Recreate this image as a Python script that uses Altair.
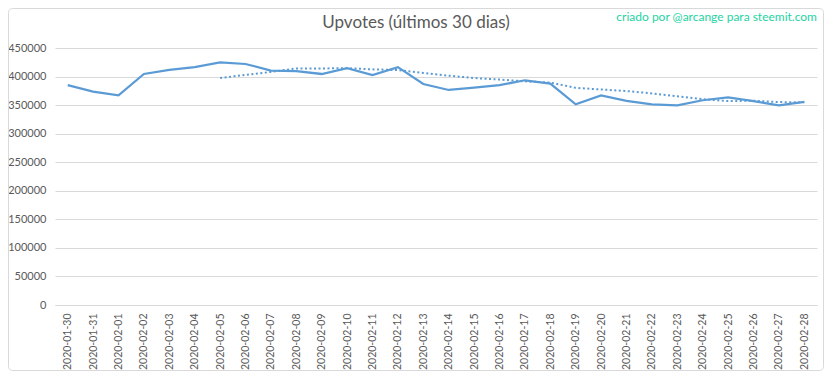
import altair as alt
import pandas as pd

dates = [
    "2020-01-30", "2020-01-31", "2020-02-01", "2020-02-02", "2020-02-03",
    "2020-02-04", "2020-02-05", "2020-02-06", "2020-02-07", "2020-02-08",
    "2020-02-09", "2020-02-10", "2020-02-11", "2020-02-12", "2020-02-13",
    "2020-02-14", "2020-02-15", "2020-02-16", "2020-02-17", "2020-02-18",
    "2020-02-19", "2020-02-20", "2020-02-21", "2020-02-22", "2020-02-23",
    "2020-02-24", "2020-02-25", "2020-02-26", "2020-02-27", "2020-02-28",
]
upvotes = [
    385000, 373500, 367000, 404500, 411500,
    416500, 425000, 422000, 410500, 409500,
    404500, 414500, 402500, 416500, 387000,
    376500, 380500, 385000, 393500, 387500,
    351500, 367000, 357500, 351500, 349500,
    358500, 363500, 357000, 349500, 355500,
]
y_ticks = [0, 50000, 100000, 150000, 200000, 250000, 300000, 350000, 400000, 450000]

title_text = "Upvotes (últimos 30 dias)"
credit_text = "criado por @arcange para steemit.com"

FONT = "Lato"
TXT = "#595959"
BLUE = "#5B9BD5"
GRID = "#D9D9D9"
W, H = 762, 257

df = pd.DataFrame({"date": dates, "upvotes": upvotes})

x_axis = alt.Axis(labelAngle=270, labelFontSize=10.5, labelColor=TXT, labelFont=FONT,
                  ticks=False, domainColor=GRID, domainWidth=1, labelPadding=8, grid=False,
                  labelOverlap=False)
y_axis = alt.Axis(values=y_ticks, domain=False, ticks=False, gridColor=GRID, gridWidth=1,
                  labelFontSize=11, labelColor=TXT, labelFont=FONT, labelPadding=9,
                  format="d", labelOverlap=False, tickCount=10)
x_scale = alt.Scale(type="point", padding=0.5)
y_scale = alt.Scale(domain=[0, 450000], nice=False)

base = alt.Chart(df)

line = base.mark_line(color=BLUE, strokeWidth=2.25).encode(
    x=alt.X("date:O", sort=dates, title=None, scale=x_scale, axis=x_axis),
    y=alt.Y("upvotes:Q", title=None, scale=y_scale, axis=y_axis),
)

ma = (
    base.transform_window(ma="mean(upvotes)", rn="row_number()", frame=[-6, 0],
                          sort=[alt.SortField("date")])
    .transform_filter("datum.rn >= 7")
    .mark_line(color=BLUE, strokeWidth=2, strokeDash=[2, 2.5])
    .encode(
        x=alt.X("date:O", sort=dates, title=None, scale=x_scale, axis=x_axis),
        y=alt.Y("ma:Q", title=None, scale=y_scale, axis=y_axis),
    )
)

one = alt.Chart(pd.DataFrame({"k": [0]}))

title = one.mark_text(align="center", baseline="alphabetic", font=FONT, fontSize=17,
                      color=TXT).encode(
    x=alt.value(361), y=alt.value(-20), text=alt.value(title_text))

credit = one.mark_text(align="right", baseline="middle", font=FONT, fontSize=12,
                       color="#1DD3A3").encode(
    x=alt.value(W), y=alt.value(-31), text=alt.value(credit_text))

frame = one.mark_rect(fill="transparent", stroke=GRID, strokeWidth=1, cornerRadius=4).encode(
    x=alt.value(-46.5), x2=alt.value(W + 6.5), y=alt.value(-39.5), y2=alt.value(H + 65.5))

chart = (
    alt.layer(frame, line, ma, title, credit)
    .properties(
        width=W, height=H,
        autosize=alt.AutoSizeParams(type="none"),
        padding={"left": 47, "top": 40, "right": 7, "bottom": 66},
    )
    .configure_view(stroke=None)
)

chart.save("out.html", embed_options={"renderer": "svg", "actions": False})
